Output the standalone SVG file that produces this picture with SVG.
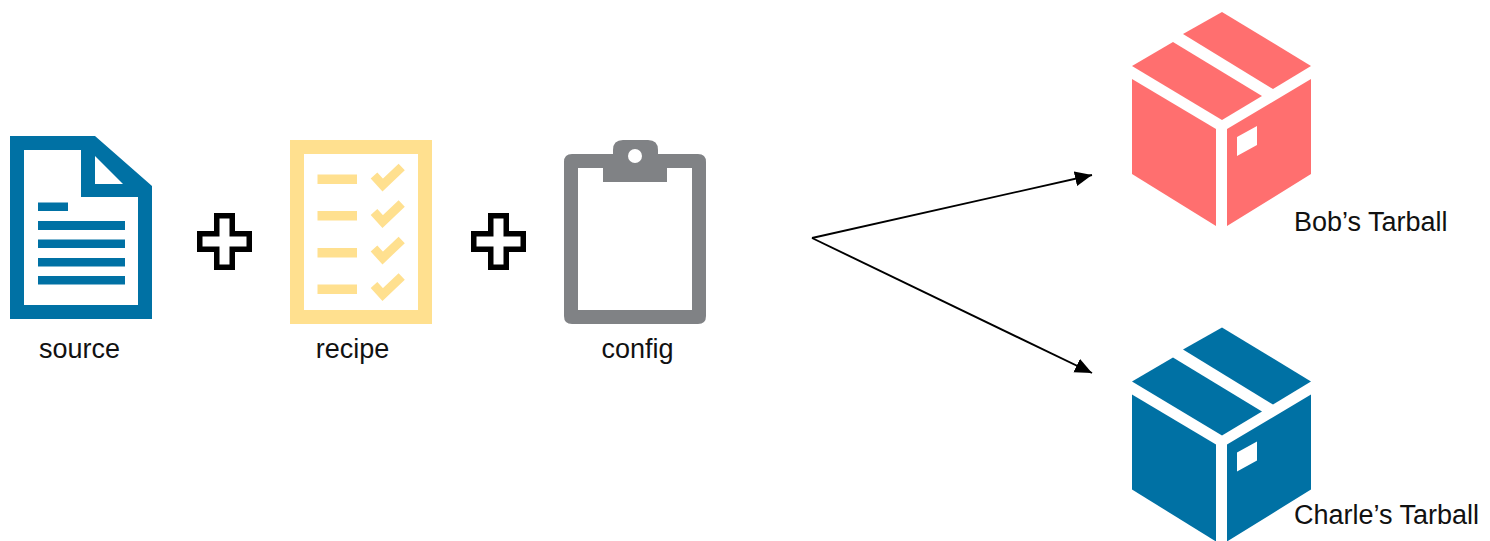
<svg xmlns="http://www.w3.org/2000/svg" xmlns:xlink="http://www.w3.org/1999/xlink" width="1490" height="541" viewBox="0 0 1490 541">
<style>
.t{font-family:"Liberation Sans",Arial,sans-serif;font-size:27px;fill:#111}
.blue{fill:#0071a4}.yellow{fill:#ffe08f}.grey{fill:#808285}.red{fill:#ff6f6f}.white{fill:#fff}
.plus{fill:#fff;stroke:#000;stroke-width:5.5;stroke-linejoin:miter}
.check{fill:none;stroke:#ffe08f;stroke-width:9}
.conn{stroke:#000;stroke-width:1.9;fill:none;marker-end:url(#arrow)}
</style>
<defs>
<marker id="arrow" markerUnits="userSpaceOnUse" markerWidth="18" markerHeight="16" refX="17" refY="8" orient="auto"><path d="M0 0.500L17 8L0 15.500Z" fill="#000"/></marker>
<path id="plusShape" class="plus" d="M17 0H32.500V18H49.500V33.500H32.500V51.500H17V33.500H0V18H17Z"/>
<g id="boxShape">
<path d="M1183 34L1222 12L1311 66L1273 89Z"/>
<path d="M1132 66L1173 42L1262 96L1222 120Z"/>
<path d="M1132 79L1216 129V226L1132 174Z"/>
<path fill-rule="evenodd" d="M1311 79L1227 129V226L1311 174ZM1237 137L1257 126V145L1237 156Z"/>
</g>
</defs>
<rect width="1490" height="541" fill="#fff"/>
<g id="source">
<path class="blue" fill-rule="evenodd" d="M10 136H95L152 186V319H10ZM24 150V305H138V197H81V150ZM95 156V184H123Z"/>
<path class="blue" d="M38 202.500H68V211H38ZM38 221H125V230H38ZM38 239.500H125V248H38ZM38 258H125V266.500H38ZM38 276H125V284.500H38Z"/>
<text class="t" x="79.500" y="357.500" text-anchor="middle">source</text>
</g>
<g id="plus1"><use xlink:href="#plusShape" href="#plusShape" x="199.750" y="215.750"/></g>
<g id="recipe">
<path class="yellow" fill-rule="evenodd" d="M290 140H432V324H290ZM304 154V310H418V154Z"/>
<path class="yellow" d="M317.500 174.500H357V184H317.500ZM317.500 211H357V220.500H317.500ZM317.500 248H357V257.500H317.500ZM317.500 284.500H357V294H317.500Z"/>
<path class="check" d="M374 175.500L382.700 185L401.700 167"/>
<path class="check" d="M374 212L382.700 221.500L401.700 203.500"/>
<path class="check" d="M374 248.500L382.700 258L401.700 240"/>
<path class="check" d="M374 285L382.700 294.500L401.700 276.500"/>
<text class="t" x="352.500" y="357.500" text-anchor="middle">recipe</text>
</g>
<g id="plus2"><use xlink:href="#plusShape" href="#plusShape" x="473.750" y="215.750"/></g>
<g id="config">
<path class="grey" fill-rule="evenodd" d="M572 154H613V150Q613 140 623 140H648Q658 140 658 150V154H698Q706 154 706 162V316Q706 324 698 324H572Q564 324 564 316V162Q564 154 572 154ZM578 168V310H692V168H667V182H603V168Z"/>
<circle class="white" cx="635" cy="156" r="7"/>
<text class="t" x="637.500" y="357.500" text-anchor="middle">config</text>
</g>
<g id="connectors">
<path class="conn" d="M812 238L1092 175"/>
<path class="conn" d="M812 238L1092 373"/>
</g>
<g id="bob">
<use xlink:href="#boxShape" href="#boxShape" class="red"/>
<text class="t" x="1294" y="230.500">Bob’s Tarball</text>
</g>
<g id="charle">
<use xlink:href="#boxShape" href="#boxShape" class="blue" y="315.500"/>
<text class="t" x="1294" y="523.500">Charle’s Tarball</text>
</g>
</svg>
